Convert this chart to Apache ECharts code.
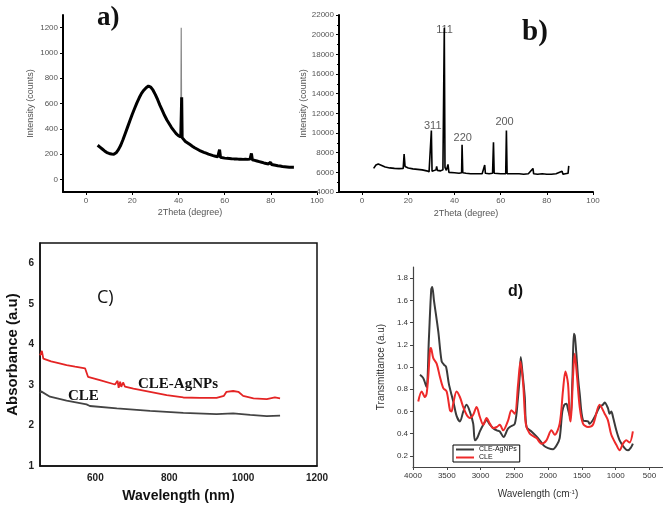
<!DOCTYPE html>
<html>
<head>
<meta charset="utf-8">
<script src="https://cdn.jsdelivr.net/npm/echarts@6/dist/echarts.min.js"></script>
<style>html,body{margin:0;padding:0;background:#fff}#c{width:663px;height:510px}</style>
</head>
<body>
<div id="c"></div>
<script>
// ---------- Panel a: XRD (CLE) ----------
const aTheta = [5,6,7,8,9,10,11,12,13,14,15,16,17,18,19,20,21,22,23,24,25,26,27,28,29,30,31,32,33,34,35,36,37,38,39,40,41,41.4,41.6,42,43,44,45,46,47,48,49,50,51,52,53,54,55,56,57,57.8,58.2,59,60,61,62,63,64,65,66,67,68,69,70,71,71.6,72,73,74,75,76,77,78,79,79.9,80.3,81,82,83,84,85,86,87,88,89,90];
const aIntensity = [270,255,240,225,212,205,200,198,210,235,270,315,365,415,465,515,560,605,645,680,705,725,738,730,705,670,630,585,545,505,470,440,410,385,362,345,335,650,330,315,300,288,275,262,250,240,230,222,214,207,200,194,188,183,178,235,175,172,168,166,165,163,162,162,160,160,158,160,158,160,205,155,150,145,140,135,130,126,122,135,118,115,112,108,105,102,100,98,96,95,95];
const aSpikeTheta = [41.0, 41.2, 41.4];
const aSpikeIntensity = [340, 1200, 330];
const aTickValues = [0,20,40,60,80,100];
const aYTickValues = [0,200,400,600,800,1000,1200];

// ---------- Panel b: XRD (CLE-AgNPs) ----------
const bTheta = [5,5.5,6,7,8,9,10,12,14,16,17.8,18.2,18.6,19,20,22,24,26,28,29,29.8,30.0,30.3,31,32,32.3,32.6,34,35,35.4,35.6,35.9,36.5,37.2,37.6,38,40,42,43.1,43.3,43.6,45,47,50,52,53.1,53.4,55,56.5,56.9,57.2,60,62.2,62.5,62.8,65,68,70,72,74,74.3,76,78,80,82,84,86.6,87,88,89.2,89.5];
const bIntensity = [6400,6600,6750,6850,6750,6650,6550,6450,6400,6380,6400,7850,6600,6550,6450,6350,6300,6250,6150,6050,6000,10250,6100,6150,6250,6600,6200,6150,6250,6400,20700,6500,6200,6800,6000,6000,5950,5900,5950,8800,5950,5900,5850,5850,5850,6750,5900,5850,5900,9050,5900,5850,5850,10250,5850,5850,5850,5800,5850,6400,5850,5800,5850,5800,5800,5850,6100,5800,5850,5900,6650];
const bXTickValues = [0,20,40,60,80,100];
const bPeakTheta = [35.7, 30.6, 43.6, 61.7];
const bPeakY = [20500, 10730, 9500, 11140];
const bPeakText = ['111', '311', '220', '200'];

// ---------- Panel c: UV-Vis ----------
const cWave = [450,455,459,480,500,522,545,572,577,580,612,653,660,663,667,670,675,680,703,748,793,838,883,928,948,955,973,987,1000,1028,1064,1086,1100];
const cAgNPs = [3.73,3.84,3.65,3.58,3.54,3.49,3.45,3.41,3.40,3.20,3.12,3.01,3.10,2.93,3.08,2.95,3.06,2.96,2.91,2.83,2.75,2.69,2.68,2.68,2.73,2.83,2.85,2.83,2.73,2.67,2.65,2.69,2.67];
const cCLEWave = [450,453,477,522,576,585,658,748,838,928,973,1019,1064,1100];
const cCLE = [2.79,2.84,2.71,2.61,2.52,2.48,2.42,2.36,2.31,2.28,2.30,2.26,2.23,2.24];
const cXTickValues = [600,800,1000,1200];
const cYTickValues = [1,2,3,4,5,6];

// ---------- Panel d: FTIR ----------
const dAgWave = [3897,3848,3800,3765,3730,3715,3690,3626,3576,3540,3510,3470,3430,3400,3355,3306,3255,3207,3160,3109,3084,3050,3010,2960,2911,2860,2814,2760,2715,2660,2600,2567,2493,2450,2419,2405,2380,2346,2320,2247,2180,2124,2060,2001,1928,1870,1829,1790,1760,1730,1706,1670,1640,1620,1605,1580,1558,1533,1484,1410,1386,1312,1238,1189,1164,1115,1090,1065,1040,991,942,868,818,770,746];
const dAgVal = [0.93,0.90,0.82,1.25,1.70,1.72,1.60,1.32,1.05,1.02,1.00,0.85,0.75,0.68,0.56,0.51,0.60,0.66,0.60,0.49,0.34,0.36,0.42,0.48,0.52,0.48,0.45,0.43,0.42,0.37,0.44,0.46,0.49,0.70,0.93,1.09,0.95,0.73,0.46,0.42,0.38,0.34,0.29,0.27,0.26,0.30,0.36,0.60,0.66,0.67,0.62,0.54,0.90,1.30,1.28,1.10,0.91,0.76,0.52,0.51,0.49,0.55,0.64,0.66,0.68,0.63,0.58,0.60,0.55,0.43,0.34,0.27,0.25,0.28,0.31];
const dCLEWave = [3922,3872,3823,3798,3770,3749,3735,3700,3650,3601,3552,3502,3453,3430,3405,3355,3306,3257,3207,3158,3109,3059,3010,2961,2911,2863,2814,2760,2715,2666,2592,2543,2493,2444,2410,2370,2331,2272,2173,2099,2025,1951,1903,1829,1780,1745,1706,1681,1666,1632,1607,1572,1533,1484,1410,1337,1238,1164,1115,1065,991,942,892,843,794,746];
const dCLEVal = [0.69,0.78,0.73,0.76,0.95,1.15,1.17,1.08,1.03,0.91,0.81,0.78,0.61,0.60,0.67,0.78,0.73,0.64,0.57,0.54,0.57,0.64,0.55,0.48,0.54,0.49,0.45,0.46,0.48,0.43,0.52,0.61,0.58,0.85,1.05,0.85,0.49,0.40,0.36,0.31,0.34,0.43,0.39,0.49,0.79,0.96,0.85,0.55,0.51,0.91,1.12,0.91,0.64,0.49,0.46,0.48,0.66,0.58,0.52,0.39,0.30,0.25,0.31,0.34,0.32,0.42];
const dXTickValues = [4000,3500,3000,2500,2000,1500,1000,500];
const dYTickValues = [0.2,0.4,0.6,0.8,1.0,1.2,1.4,1.6,1.8];

const zip = (xs, ys) => xs.map((x, i) => [x, ys[i]]);
const plain = v => String(v);
const SANS = '"Liberation Sans", Arial, sans-serif';
const SERIF = '"Liberation Serif", "Times New Roman", serif';

const xrdLabel = {fontSize: 8, color: '#555', fontFamily: SANS, margin: 5, formatter: plain};
const xrdLine = {show: true, onZero: false, lineStyle: {color: '#000', width: 2}};
const xrdTick = {show: true, length: 3, lineStyle: {color: '#000', width: 1}};
const xrdName = {fontSize: 9, color: '#555', fontFamily: SANS};

const chart = echarts.init(document.getElementById('c'), null, {renderer: 'canvas'});
chart.setOption({
  animation: false,
  backgroundColor: '#fff',
  grid: [
    {left: 63, top: 15, width: 254, height: 177},
    {left: 339, top: 15, width: 254, height: 177},
    {left: 40, top: 243, width: 277, height: 223, show: true, borderColor: '#111', borderWidth: 1.5, backgroundColor: 'transparent'},
    {left: 413, top: 267, width: 250, height: 200}
  ],
  xAxis: [
    {gridIndex: 0, type: 'value', min: -10, max: 100, axisLine: xrdLine, axisTick: Object.assign({customValues: aTickValues}, xrdTick),
     axisLabel: Object.assign({customValues: aTickValues}, xrdLabel), splitLine: {show: false},
     name: '2Theta (degree)', nameLocation: 'middle', nameGap: 16, nameTextStyle: xrdName},
    {gridIndex: 1, type: 'value', min: -10, max: 100, axisLine: xrdLine, axisTick: Object.assign({customValues: bXTickValues}, xrdTick),
     axisLabel: Object.assign({customValues: bXTickValues}, xrdLabel), splitLine: {show: false},
     name: '2Theta (degree)', nameLocation: 'middle', nameGap: 17, nameTextStyle: xrdName},
    {gridIndex: 2, type: 'value', min: 450, max: 1200, axisLine: {show: true, onZero: false, lineStyle: {color: '#111', width: 1.5}},
     axisTick: {show: false}, axisLabel: {customValues: cXTickValues, formatter: plain, fontSize: 10, fontWeight: 'bold', color: '#222', fontFamily: SANS, margin: 7},
     splitLine: {show: false}, name: 'Wavelength (nm)', nameLocation: 'middle', nameGap: 23,
     nameTextStyle: {fontSize: 14, fontWeight: 'bold', color: '#111', fontFamily: SANS}},
    {gridIndex: 3, type: 'value', inverse: true, min: 300, max: 4000, axisLine: {show: true, onZero: false, lineStyle: {color: '#444', width: 1.2}},
     axisTick: {show: true, customValues: dXTickValues, length: 3, lineStyle: {color: '#444'}},
     axisLabel: {customValues: dXTickValues, formatter: plain, fontSize: 8, color: '#333', fontFamily: SANS, margin: 5}, splitLine: {show: false},
     name: 'Wavelength (cm{sup|-1})', nameLocation: 'middle', nameGap: 22,
     nameTextStyle: {fontSize: 10, color: '#333', fontFamily: SANS, rich: {sup: {fontSize: 6, verticalAlign: 'top', color: '#333', padding: [0, 0, 5, 0]}}}}
  ],
  yAxis: [
    {gridIndex: 0, type: 'value', min: -100, max: 1300, axisLine: xrdLine, axisTick: Object.assign({customValues: aYTickValues}, xrdTick),
     axisLabel: Object.assign({customValues: aYTickValues}, xrdLabel), splitLine: {show: false},
     name: 'Intensity (counts)', nameLocation: 'middle', nameGap: 28, nameTextStyle: xrdName},
    {gridIndex: 1, type: 'value', min: 4000, max: 22000, interval: 2000, axisLine: xrdLine, axisTick: xrdTick,
     minorTick: {show: true, splitNumber: 2, length: 2, lineStyle: {color: '#000'}},
     axisLabel: xrdLabel, splitLine: {show: false},
     name: 'Intensity (counts)', nameLocation: 'middle', nameGap: 31, nameTextStyle: xrdName},
    {gridIndex: 2, type: 'value', min: 1, max: 6.5, axisLine: {show: true, onZero: false, lineStyle: {color: '#111', width: 1.5}},
     axisTick: {show: false}, axisLabel: {customValues: cYTickValues, formatter: plain, fontSize: 10, fontWeight: 'bold', color: '#222', fontFamily: SANS, margin: 6},
     splitLine: {show: false}, name: 'Absorbance (a.u)', nameLocation: 'middle', nameGap: 20,
     nameTextStyle: {fontSize: 15, fontWeight: 'bold', color: '#111', fontFamily: SANS}},
    {gridIndex: 3, type: 'value', min: 0.1, max: 1.9, axisLine: {show: true, onZero: false, lineStyle: {color: '#444', width: 1.2}},
     axisTick: {show: true, customValues: dYTickValues, length: 3, lineStyle: {color: '#444'}},
     axisLabel: {customValues: dYTickValues, fontSize: 8, color: '#333', fontFamily: SANS, margin: 5, formatter: v => v.toFixed(1)},
     splitLine: {show: false}, name: 'Transmittance (a.u)', nameLocation: 'middle', nameGap: 27,
     nameTextStyle: {fontSize: 10, color: '#333', fontFamily: SANS}}
  ],
  legend: {
    data: ['CLE-AgNPs', 'CLE'], left: 453, top: 445, orient: 'vertical', icon: 'rect',
    itemWidth: 18, itemHeight: 2, itemGap: 1, padding: [1, 3, 1, 3], borderColor: '#000', borderWidth: 1,
    backgroundColor: '#fff', textStyle: {fontSize: 7, color: '#111', fontFamily: SANS}
  },
  series: [
    {name: 'a spike', type: 'line', xAxisIndex: 0, yAxisIndex: 0, data: zip(aSpikeTheta, aSpikeIntensity), symbol: 'none',
     lineStyle: {color: '#888', width: 1.2}},
    {name: 'a XRD', type: 'line', xAxisIndex: 0, yAxisIndex: 0, data: zip(aTheta, aIntensity), symbol: 'none',
     lineStyle: {color: '#000', width: 3}},
    {name: 'b XRD', type: 'line', xAxisIndex: 1, yAxisIndex: 1, data: zip(bTheta, bIntensity), symbol: 'none',
     lineStyle: {color: '#000', width: 1.6}},
    {name: 'b peaks', type: 'scatter', xAxisIndex: 1, yAxisIndex: 1, data: zip(bPeakTheta, bPeakY), symbolSize: 0,
     label: {show: true, position: 'inside', formatter: p => bPeakText[p.dataIndex], fontSize: 11, color: '#333', fontFamily: SANS}},
    {name: 'UV CLE-AgNPs', type: 'line', xAxisIndex: 2, yAxisIndex: 2, data: zip(cWave, cAgNPs), symbol: 'none',
     lineStyle: {color: '#e42424', width: 1.8}},
    {name: 'UV CLE', type: 'line', xAxisIndex: 2, yAxisIndex: 2, data: zip(cCLEWave, cCLE), symbol: 'none',
     lineStyle: {color: '#444', width: 1.8}},
    {name: 'CLE-AgNPs', type: 'line', xAxisIndex: 3, yAxisIndex: 3, data: zip(dAgWave, dAgVal), symbol: 'none', smooth: 0.3,
     color: '#3a3a3a', lineStyle: {color: '#3a3a3a', width: 2}},
    {name: 'CLE', type: 'line', xAxisIndex: 3, yAxisIndex: 3, data: zip(dCLEWave, dCLEVal), symbol: 'none', smooth: 0.3,
     color: '#ee2a2a', lineStyle: {color: '#ee2a2a', width: 2}}
  ],
  graphic: [
    {type: 'text', left: 97, top: 5, style: {text: 'a)', font: 'bold 27px ' + SERIF, fill: '#111'}},
    {type: 'text', left: 522, top: 18, style: {text: 'b)', font: 'bold 29px ' + SERIF, fill: '#111'}},
    {type: 'text', left: 97, top: 289, style: {text: 'C)', font: '18px "Open Sans", ' + SANS, fill: '#111'}},
    {type: 'text', left: 508, top: 284, style: {text: 'd)', font: 'bold 16px ' + SANS, fill: '#111'}},
    {type: 'text', left: 138, top: 377, style: {text: 'CLE-AgNPs', font: 'bold 15px ' + SERIF, fill: '#111'}},
    {type: 'text', left: 68, top: 389, style: {text: 'CLE', font: 'bold 15px ' + SERIF, fill: '#111'}}
  ]
});
</script>
</body>
</html>
